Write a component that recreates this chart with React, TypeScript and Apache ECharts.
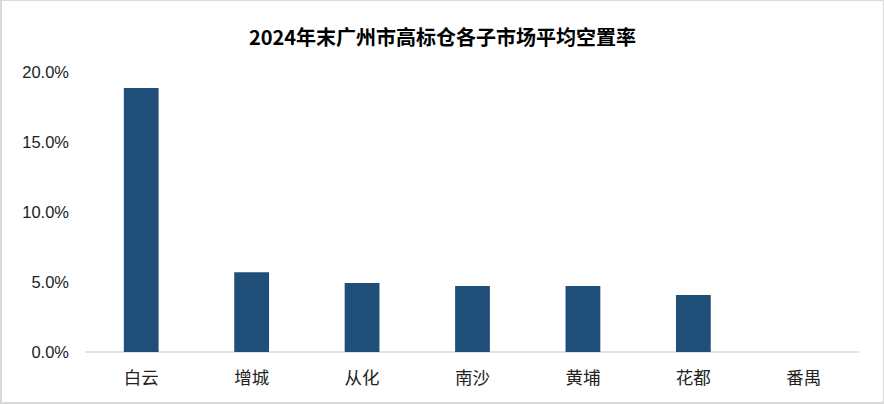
import React, { useEffect, useRef } from "react";
import * as echarts from "echarts";

const categories = ["白云", "增城", "从化", "南沙", "黄埔", "花都", "番禺"];
const vacancyRates = [18.85, 5.7, 4.93, 4.71, 4.71, 4.07, 0];
const titleText = "2024年末广州市高标仓各子市场平均空置率";

export default function App() {
  const ref = useRef<HTMLDivElement>(null);
  useEffect(() => {
    document.body.style.margin = "0";
    const chart = echarts.init(ref.current!, null, { renderer: "svg" });
    chart.setOption({
      animation: false,
      backgroundColor: "#ffffff",
      title: {
        text: titleText,
        left: "center",
        top: 20,
        textStyle: {
          fontFamily: "Noto Sans CJK SC",
          fontWeight: "bold",
          fontSize: 20,
          color: "#000000",
        },
      },
      grid: { left: 84, right: 24, top: 71, bottom: 50 },
      xAxis: {
        type: "category",
        data: categories,
        axisLine: { lineStyle: { color: "#d9d9d9", width: 1.5 } },
        axisTick: { show: false },
        axisLabel: {
          color: "#222222",
          fontSize: 17.5,
          fontFamily: "Noto Sans CJK SC",
          margin: 16,
        },
      },
      yAxis: {
        type: "value",
        min: 0,
        max: 20,
        interval: 5,
        splitLine: { show: false },
        axisLine: { show: false },
        axisTick: { show: false },
        axisLabel: {
          color: "#222222",
          fontSize: 16.5,
          fontFamily: "Liberation Sans, Arial, sans-serif",
          margin: 17,
          formatter: (v: number) => v.toFixed(1) + "%",
        },
      },
      series: [
        {
          type: "bar",
          data: vacancyRates,
          barWidth: "31.5%",
          itemStyle: { color: "#1f4e79" },
        },
      ],
    });
    return () => chart.dispose();
  }, []);
  return (
    <div
      style={{
        position: "fixed",
        left: 0,
        top: 0,
        width: 884,
        height: 404,
        boxSizing: "border-box",
        border: "2px solid #d9d9d9",
        borderTop: "1px solid #d9d9d9",
        borderRight: "1px solid #d9d9d9",
        background: "#fff",
      }}
    >
      <div ref={ref} style={{ width: 881, height: 401 }} />
    </div>
  );
}
